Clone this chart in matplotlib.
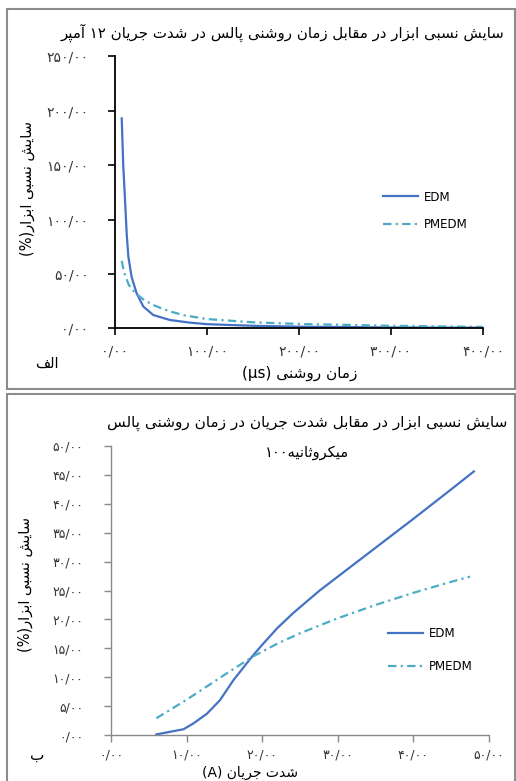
import re
import matplotlib
matplotlib.use('Agg')
import matplotlib.pyplot as plt
from matplotlib.patches import Rectangle
from matplotlib.ticker import FuncFormatter

# panel a: tool wear vs pulse on-time at 12 A
ton = [7.3, 9.0, 10.9, 12.7, 14.5, 18.1, 23.6, 30.8, 41.6, 59.8, 81.5, 100, 150, 200, 300, 400]
edm_a = [193, 149, 118, 87, 66, 47, 32, 20, 12.2, 7.6, 5.2, 3.8, 2.3, 1.5, 0.8, 0.5]
ton_pm = [7.3, 10, 15, 20, 25, 30, 40, 50, 60, 75, 100, 150, 200, 300, 400]
pmedm_a = [62, 51, 40, 34.5, 30.5, 27, 22, 18.5, 15.5, 12, 8.5, 5.5, 4, 2.3, 1.3]

# panel b: tool wear vs current at 100 us
cur = [6.0, 8.0, 9.6, 10.9, 12.7, 14.4, 16.2, 18.8, 20, 22, 24.1, 27.6, 30, 35, 40, 45, 48]
edm_b = [0.1, 0.6, 1.0, 2.0, 3.7, 6.0, 9.5, 13.8, 15.6, 18.5, 21.1, 25.0, 27.4, 32.4, 37.4, 42.5, 45.6]
cur_pm = [6.0, 10, 15, 18.8, 22, 25, 30, 35, 40, 45, 47.5]
pmedm_b = [2.9, 6.1, 10.4, 13.6, 15.8, 17.6, 20.2, 22.5, 24.6, 26.5, 27.4]

title_a = 'سایش نسبی ابزار در مقابل زمان روشنی پالس در شدت جریان ۱۲ آمپر'
title_b1 = 'سایش نسبی ابزار در مقابل شدت جریان در زمان روشنی پالس'
title_b2 = 'میکروثانیه۱۰۰'
ylab = 'سایش نسبی ابزار(%)'
xlab_a = 'زمان روشنی (µs)'
xlab_b = 'شدت جریان (A)'

# presentation forms: isolated, final, initial, medial
FORMS = {
    'ا': ('\uFE8D', '\uFE8E'), 'آ': ('\uFE81', '\uFE82'),
    'ب': ('\uFE8F', '\uFE90', '\uFE91', '\uFE92'),
    'پ': ('\uFB56', '\uFB57', '\uFB58', '\uFB59'),
    'ت': ('\uFE95', '\uFE96', '\uFE97', '\uFE98'),
    'ث': ('\uFE99', '\uFE9A', '\uFE9B', '\uFE9C'),
    'ج': ('\uFE9D', '\uFE9E', '\uFE9F', '\uFEA0'),
    'د': ('\uFEA9', '\uFEAA'), 'ر': ('\uFEAD', '\uFEAE'),
    'ز': ('\uFEAF', '\uFEB0'),
    'س': ('\uFEB1', '\uFEB2', '\uFEB3', '\uFEB4'),
    'ش': ('\uFEB5', '\uFEB6', '\uFEB7', '\uFEB8'),
    'ف': ('\uFED1', '\uFED2', '\uFED3', '\uFED4'),
    'ق': ('\uFED5', '\uFED6', '\uFED7', '\uFED8'),
    'ک': ('\uFB8E', '\uFB8F', '\uFB90', '\uFB91'),
    'ل': ('\uFEDD', '\uFEDE', '\uFEDF', '\uFEE0'),
    'م': ('\uFEE1', '\uFEE2', '\uFEE3', '\uFEE4'),
    'ن': ('\uFEE5', '\uFEE6', '\uFEE7', '\uFEE8'),
    'ه': ('\uFEE9', '\uFEEA', '\uFEEB', '\uFEEC'),
    'و': ('\uFEED', '\uFEEE'),
    'ی': ('\uFBFC', '\uFBFD', '\uFBFE', '\uFBFF'),
}


def fa(s):
    out = []
    for i, c in enumerate(s):
        if c not in FORMS:
            out.append(c)
            continue
        p = s[i - 1] if i > 0 else ''
        n = s[i + 1] if i + 1 < len(s) else ''
        jp = p in FORMS and len(FORMS[p]) == 4
        jn = len(FORMS[c]) == 4 and n in FORMS
        k = 3 if (jp and jn) else 2 if jn else 1 if jp else 0
        out.append(FORMS[c][k])
    vis = ''.join(out)[::-1]
    vis = re.sub(r'[0-9۰-۹A-Za-zµμ%/.]+', lambda m: m.group(0)[::-1], vis)
    return vis.translate(str.maketrans('()', ')('))


FA_DIG = str.maketrans('0123456789.', '۰۱۲۳۴۵۶۷۸۹/')
fa_fmt = FuncFormatter(lambda v, pos: f'{v:.2f}'.translate(FA_DIG))

plt.rcParams['font.family'] = ['DejaVu Sans']

W, H = 516, 781
fig = plt.figure(figsize=(W / 100, H / 100), dpi=100)


def fx(px):
    return px / W


def fy(py):
    return 1 - py / H


edm_c = '#4472C4'
pm_c = '#4BACC6'
dash = (3.8, 1.9, 1.0, 1.9)

# panel borders
fig.patches.append(Rectangle((fx(7), fy(389)), fx(515) - fx(7), fy(9) - fy(389),
                             transform=fig.transFigure, fill=False, ec='#8c8c8c', lw=1.5))
fig.patches.append(Rectangle((fx(7), fy(800)), fx(515) - fx(7), fy(394) - fy(800),
                             transform=fig.transFigure, fill=False, ec='#8c8c8c', lw=1.5))

# ---- panel a
ax1 = fig.add_axes([fx(115), fy(328.3), (483 - 115) / W, (328.3 - 56.4) / H])
ax1.plot(ton, edm_a, color=edm_c, lw=1.6, label='EDM')
ax1.plot(ton_pm, pmedm_a, color=pm_c, lw=1.6, dashes=dash, label='PMEDM')
ax1.set_xlim(0, 400)
ax1.set_ylim(0, 250)
ax1.set_xticks(range(0, 401, 100))
ax1.set_yticks(range(0, 251, 50))
for s in ('top', 'right'):
    ax1.spines[s].set_visible(False)
for s in ('left', 'bottom'):
    ax1.spines[s].set_color('black')
    ax1.spines[s].set_linewidth(1.3)
ax1.tick_params(axis='y', direction='out', length=5, width=1.2, pad=14, labelsize=10, labelcolor='#333333')
ax1.tick_params(axis='x', direction='out', length=5, width=1.2, pad=7, labelsize=10, labelcolor='#333333')
ax1.xaxis.set_major_formatter(fa_fmt)
ax1.yaxis.set_major_formatter(fa_fmt)
ax1.legend(loc='center left', bbox_to_anchor=(fx(383), fy(211)), bbox_transform=fig.transFigure,
           frameon=False, fontsize=8.5, handlelength=3.0, labelspacing=1.25,
           handletextpad=0.5, borderpad=0, borderaxespad=0)

fig.text(fx(283), fy(33), fa(title_a), ha='center', va='center', fontsize=10.8)
fig.text(fx(27), fy(188), fa(ylab), rotation=90, ha='center', va='center', fontsize=10.5)
fig.text(fx(300), fy(373), fa(xlab_a), ha='center', va='center', fontsize=11)
fig.text(fx(47), fy(363), fa('الف'), ha='center', va='center', fontsize=10.5)

# ---- panel b
ax2 = fig.add_axes([fx(111), fy(735), (489 - 111) / W, (735 - 446) / H])
ax2.plot(cur, edm_b, color=edm_c, lw=1.6, label='EDM')
ax2.plot(cur_pm, pmedm_b, color=pm_c, lw=1.6, dashes=dash, label='PMEDM')
ax2.set_xlim(0, 50)
ax2.set_ylim(0, 50)
ax2.set_xticks(range(0, 51, 10))
ax2.set_yticks(range(0, 51, 5))
for s in ('top', 'right'):
    ax2.spines[s].set_visible(False)
for s in ('left', 'bottom'):
    ax2.spines[s].set_color('#898989')
    ax2.spines[s].set_linewidth(1.0)
ax2.tick_params(axis='y', direction='out', length=5, width=1.0, color='#898989', pad=15,
                labelsize=9, labelcolor='#333333')
ax2.tick_params(axis='x', direction='out', length=5, width=1.0, color='#898989', pad=5,
                labelsize=9, labelcolor='#333333')
ax2.xaxis.set_major_formatter(fa_fmt)
ax2.yaxis.set_major_formatter(fa_fmt)
ax2.legend(loc='center left', bbox_to_anchor=(fx(388), fy(650)), bbox_transform=fig.transFigure,
           frameon=False, fontsize=8.5, handlelength=3.0, labelspacing=1.7,
           handletextpad=0.5, borderpad=0, borderaxespad=0)

fig.text(fx(307), fy(423), fa(title_b1), ha='center', va='center', fontsize=11)
fig.text(fx(307), fy(453), fa(title_b2), ha='center', va='center', fontsize=10.5)
fig.text(fx(25), fy(584), fa(ylab), rotation=90, ha='center', va='center', fontsize=10.5)
fig.text(fx(250), fy(773), fa(xlab_b), ha='center', va='center', fontsize=10)
fig.text(fx(37), fy(755), fa('ب'), ha='center', va='center', fontsize=11)

fig.savefig('out.png', dpi=100)
